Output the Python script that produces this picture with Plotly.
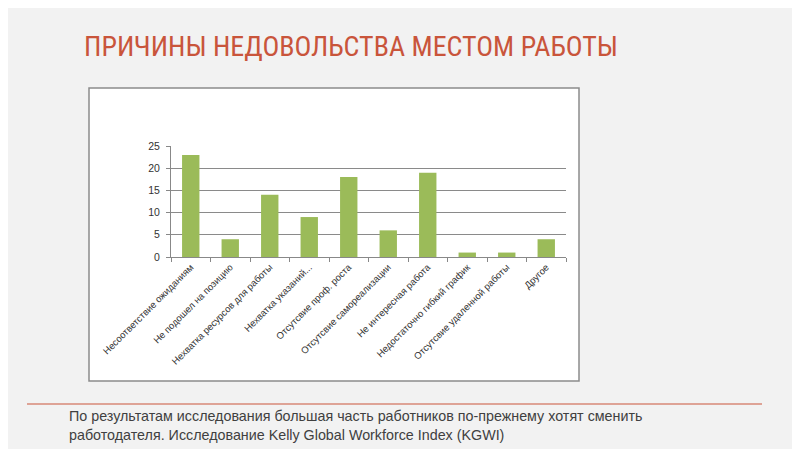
import plotly.graph_objects as go

categories = [
    "Несоответствие ожиданиям",
    "Не подошел на позицию",
    "Нехватка ресурсов для работы",
    "Нехватка указаний...",
    "Отсутсвие проф. роста",
    "Отсутсвие самореализации",
    "Не интересная работа",
    "Недостаточно гибкий график",
    "Отсутсвие удаленной работы",
    "Другое",
]
values = [23, 4, 14, 9, 18, 6, 19, 1, 1, 4]
y_ticks = [0, 5, 10, 15, 20, 25]

title_text = "ПРИЧИНЫ НЕДОВОЛЬСТВА МЕСТОМ РАБОТЫ"
footer_text = ("По результатам исследования большая часть работников по-прежнему хотят сменить<br>"
               "работодателя. Исследование Kelly Global Workforce Index (KGWI)")

W, H = 800, 449
OFF = 8  # page body margin
def px(x): return (x - OFF) / W
def py(y): return 1 - (y - OFF) / H

fig = go.Figure()
fig.add_trace(go.Bar(x=categories, y=values, marker_color="#9BBB59",
                     marker_line_width=0, hoverinfo="x+y"))

fig.update_layout(
    width=W, height=H,
    autosize=False,
    margin=dict(l=0, r=0, t=0, b=0, pad=0, autoexpand=False),
    paper_bgcolor="#f2f2f2",
    plot_bgcolor="rgba(0,0,0,0)",
    showlegend=False,
    bargap=0.56,
    xaxis=dict(
        domain=[px(171), px(566)],
        automargin=False,
        tickangle=-45,
        tickfont=dict(family="Liberation Sans, Arial", size=9.5, color="#333333"),
        showline=True, linecolor="#888888", linewidth=1,
        ticks="outside", tickson="boundaries", ticklen=4, tickcolor="#888888",
        showgrid=False,
        anchor="y",
    ),
    yaxis=dict(
        domain=[py(257), py(146)],
        automargin=False,
        range=[0, 25],
        tickvals=y_ticks,
        tickfont=dict(family="Liberation Sans, Arial", size=10.5, color="#333333"),
        ticklabelstandoff=4,
        showgrid=True, gridcolor="#8a8a8a", gridwidth=1,
        showline=True, linecolor="#888888", linewidth=1,
        ticks="outside", ticklen=4, tickcolor="#888888",
        zeroline=False,
    ),
    shapes=[
        dict(type="rect", xref="paper", yref="paper",
             x0=px(89), x1=px(579), y0=py(381), y1=py(88),
             fillcolor="white", line=dict(color="#8c8c8c", width=1.5), layer="below"),
        dict(type="line", xref="paper", yref="paper",
             x0=px(27), x1=px(762), y0=py(404), y1=py(404),
             line=dict(color="#c9553b", width=1.2)),
    ],
    annotations=[
        dict(text=title_text, xref="paper", yref="paper", x=px(82), y=py(46),
             xanchor="left", yanchor="middle", showarrow=False,
             font=dict(family="Liberation Sans Narrow, Roboto Condensed, Arial Narrow, sans-serif",
                       size=28, color="#c9553b")),
        dict(text=footer_text, xref="paper", yref="paper", x=px(67), y=py(425),
             xanchor="left", yanchor="middle", align="left", showarrow=False,
             font=dict(family="Liberation Sans, Arial, sans-serif",
                       size=14.3, color="#404040")),
    ],
)

fig.write_html("out.html")
